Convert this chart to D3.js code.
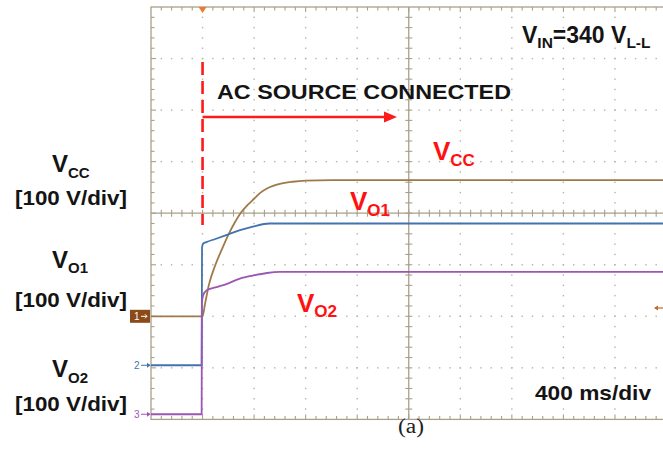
<!DOCTYPE html>
<html>
<head>
<meta charset="utf-8">
<script src="https://cdn.jsdelivr.net/npm/d3@7/dist/d3.min.js"></script>
<style>
  html, body { margin: 0; padding: 0; background: #fff; }
  svg { display: block; }
</style>
</head>
<body>
<svg id="scope" width="663" height="457"></svg>
<script>
// Time base: 400 ms/div, 10 divisions. Vertical: 100 V/div, 8 divisions.
const timeDivs = 10;
const voltDivs = 8;
const msPerDiv = 400;
const voltsPerDiv = 100;
const triggerMs = 400;

// Channel 1: Vcc
const vccTime = [0, 400, 420, 450, 500, 550, 600, 650, 700, 750, 800, 850, 900, 1000, 1100, 1200, 1400, 4000];
const vccVolts = [0, 0, 25, 62, 100, 130, 158, 182, 202, 216, 228, 240, 248, 257, 261, 263, 264, 264];

// Channel 2: Vo1
const vo1Time = [0, 393, 396, 405, 430, 500, 590, 690, 790, 920, 1000, 4000];
const vo1Volts = [0, 0, 228, 236, 239, 245, 253, 262, 269, 275, 275, 275];

// Channel 3: Vo2
const vo2Time = [0, 393, 395, 405, 430, 500, 590, 690, 790, 900, 1000, 4000];
const vo2Volts = [0, 0, 215, 231, 240, 246, 253, 263, 269, 274, 276, 276];

// Ground reference of each channel, in divisions from screen centre
const channelOffsets = [-2.0, -2.95, -3.9];
const channelColors = ["#9e7a4a", "#4273ae", "#9c56b4"];
const channelNames = ["1", "2", "3"];

const sans = "'Liberation Sans', Arial, Helvetica, sans-serif";
const serif = "'Liberation Serif', 'Times New Roman', serif";

const svg = d3.select("#scope");
const leftX = 151, topY = 7, div = 51.55;

const x = d3.scaleLinear().domain([0, timeDivs * msPerDiv]).range([leftX, leftX + timeDivs * div]);
const yDiv = d3.scaleLinear().domain([-voltDivs / 2, voltDivs / 2]).range([topY + voltDivs * div, topY]);
const yChan = (ch, v) => yDiv(channelOffsets[ch] + v / voltsPerDiv);

const gridCol = "#a9a08a";
const dotCol = "#bab2a0";
const rightX = x(timeDivs * msPerDiv), bottomY = yDiv(-voltDivs / 2);
const cx = x(timeDivs * msPerDiv / 2), cy = yDiv(0);
const minor = div / 5;

const grid = svg.append("g");
// dotted graticule lines
for (let i = 1; i < timeDivs; i++) {
  if (i === timeDivs / 2) continue;
  const gx = leftX + i * div;
  for (let k = 1; k < voltDivs * 5; k++) {
    grid.append("rect").attr("x", gx - 0.7).attr("y", topY + k * minor - 0.7)
      .attr("width", 1.4).attr("height", 1.4).attr("fill", dotCol);
  }
}
for (let j = 1; j < voltDivs; j++) {
  if (j === voltDivs / 2) continue;
  const gy = topY + j * div;
  for (let k = 1; k < timeDivs * 5; k++) {
    grid.append("rect").attr("x", leftX + k * minor - 0.7).attr("y", gy - 0.7)
      .attr("width", 1.4).attr("height", 1.4).attr("fill", dotCol);
  }
}
// border
grid.append("rect").attr("x", leftX).attr("y", topY).attr("width", rightX - leftX).attr("height", bottomY - topY)
  .attr("fill", "none").attr("stroke", gridCol).attr("stroke-width", 1.3);
// centre axes
grid.append("line").attr("x1", leftX).attr("x2", rightX).attr("y1", cy).attr("y2", cy)
  .attr("stroke", gridCol).attr("stroke-width", 1.3);
grid.append("line").attr("x1", cx).attr("x2", cx).attr("y1", topY).attr("y2", bottomY)
  .attr("stroke", gridCol).attr("stroke-width", 1.3);
// tick marks along border and centre axes
for (let k = 1; k < timeDivs * 5; k++) {
  const tx = leftX + k * minor;
  const len = (k % 5 === 0) ? 5 : 3.5;
  grid.append("line").attr("x1", tx).attr("x2", tx).attr("y1", topY).attr("y2", topY + len).attr("stroke", gridCol).attr("stroke-width", 1.1);
  grid.append("line").attr("x1", tx).attr("x2", tx).attr("y1", bottomY).attr("y2", bottomY - len).attr("stroke", gridCol).attr("stroke-width", 1.1);
  grid.append("line").attr("x1", tx).attr("x2", tx).attr("y1", cy - 3.5).attr("y2", cy + 3.5).attr("stroke", gridCol).attr("stroke-width", 1.1);
}
for (let k = 1; k < voltDivs * 5; k++) {
  const ty = topY + k * minor;
  const len = (k % 5 === 0) ? 5 : 3.5;
  grid.append("line").attr("x1", leftX).attr("x2", leftX + len).attr("y1", ty).attr("y2", ty).attr("stroke", gridCol).attr("stroke-width", 1.1);
  grid.append("line").attr("x1", cx - 3.5).attr("x2", cx + 3.5).attr("y1", ty).attr("y2", ty).attr("stroke", gridCol).attr("stroke-width", 1.1);
}

// trigger position marker
const tx0 = x(triggerMs);
svg.append("path").attr("d", `M${tx0 - 4},${topY} L${tx0 + 4},${topY} L${tx0},${topY + 6} Z`).attr("fill", "#f07a2a");

// traces
const series = [
  { t: vccTime, v: vccVolts },
  { t: vo1Time, v: vo1Volts },
  { t: vo2Time, v: vo2Volts }
];
series.forEach((s, ch) => {
  const pts = s.t.map((t, i) => [t, s.v[i]]);
  const line = d3.line().x(d => x(d[0])).y(d => yChan(ch, d[1])).curve(d3.curveMonotoneX);
  svg.append("path").datum(pts).attr("d", line).attr("fill", "none")
    .attr("stroke", channelColors[ch]).attr("stroke-width", 1.8);
});

// channel ground markers
const g1 = yChan(0, 0);
svg.append("rect").attr("x", 130).attr("y", g1 - 6.5).attr("width", 20).attr("height", 13).attr("fill", "#8c4a18");
svg.append("text").attr("x", 134).attr("y", g1 + 3.5).attr("font-size", 10).attr("font-family", sans)
  .attr("fill", "#fff").text("1");
svg.append("path").attr("d", `M141,${g1} L147,${g1} M145,${g1 - 2} L147,${g1} L145,${g1 + 2}`).attr("stroke", "#fff").attr("stroke-width", 1).attr("fill", "none");
[1, 2].forEach(ch => {
  const gy = yChan(ch, 0);
  const col = channelColors[ch];
  svg.append("text").attr("x", 134).attr("y", gy + 3.5).attr("font-size", 10).attr("font-family", sans)
    .attr("fill", col).text(channelNames[ch]);
  svg.append("path").attr("d", `M141,${gy} L150,${gy}`).attr("stroke", col).attr("stroke-width", 1);
  svg.append("path").attr("d", `M147,${gy - 2.5} L150.5,${gy} L147,${gy + 2.5} Z`).attr("fill", col);
});
// channel 1 level indicator on the right edge
svg.append("path").attr("d", "M655,308 L663,308").attr("stroke", "#c06a28").attr("stroke-width", 1.2);
svg.append("path").attr("d", "M654,308 L658,305.5 L658,310.5 Z").attr("fill", "#c06a28");

// event annotation: dashed marker and arrow
svg.append("line").attr("x1", tx0).attr("x2", tx0).attr("y1", 62).attr("y2", 225)
  .attr("stroke", "#ff1a1a").attr("stroke-width", 2.6).attr("stroke-dasharray", "13,6");
svg.append("line").attr("x1", tx0).attr("x2", 386).attr("y1", 117).attr("y2", 117)
  .attr("stroke", "#ff1a1a").attr("stroke-width", 2.6);
svg.append("path").attr("d", "M384,111.5 L397,117 L384,122.5 Z").attr("fill", "#ff1a1a");

// plain bold label
function label(str, xPos, yPos, size, color, len) {
  const t = svg.append("text").attr("x", xPos).attr("y", yPos).attr("font-size", size)
    .attr("font-family", sans).attr("font-weight", "bold").attr("fill", color).text(str);
  if (len) t.attr("textLength", len).attr("lengthAdjust", "spacingAndGlyphs");
  return t;
}
// bold label built from runs; each run is [text, size, baseline shift]
function runs(parts, xPos, yPos, color) {
  const t = svg.append("text").attr("x", xPos).attr("y", yPos)
    .attr("font-family", sans).attr("font-weight", "bold").attr("fill", color);
  let prev = 0;
  parts.forEach(([s, size, shift]) => {
    t.append("tspan").attr("font-size", size).attr("dy", shift - prev).text(s);
    prev = shift;
  });
  return t;
}
const ink = "#141414", red = "#ff1111";

// left channel labels
runs([["V", 24, 0], ["CC", 15, 6]], 52, 172, ink);
label("[100 V/div]", 15, 205, 21, ink, 112);
runs([["V", 24, 0], ["O1", 15, 5]], 52, 268, ink);
label("[100 V/div]", 15, 306.5, 21, ink, 112);
runs([["V", 24, 0], ["O2", 15, 6]], 52, 377, ink);
label("[100 V/div]", 15, 411, 21, ink, 112);

// on-screen annotations
label("AC SOURCE CONNECTED", 217, 98.5, 21, ink, 294);
runs([["V", 23, 0], ["IN", 15.5, 4.5], ["=340 V", 23, 0], ["L-L", 15.5, 4.5]], 522, 43, ink);
label("400 ms/div", 535, 400, 21, ink, 116);

runs([["V", 26, 0], ["CC", 17, 5.5]], 433, 160, red);
runs([["V", 26, 0], ["O1", 17, 5.5]], 350, 210, red);
runs([["V", 26, 0], ["O2", 17, 5.5]], 297, 311.5, red);

// caption
svg.append("text").attr("x", 398).attr("y", 433).attr("font-size", 20)
  .attr("font-family", serif).attr("fill", "#222")
  .attr("textLength", 26).attr("lengthAdjust", "spacingAndGlyphs").text("(a)");
</script>
</body>
</html>
